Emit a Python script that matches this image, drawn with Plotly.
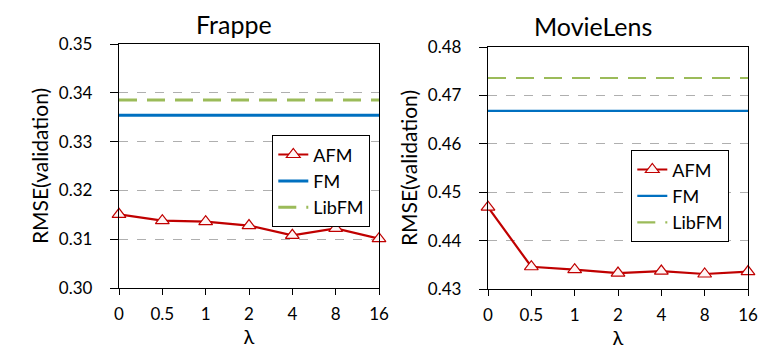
import plotly.graph_objects as go

lambdas = ["0", "0.5", "1", "2", "4", "8", "16"]

frappe_afm = [0.3151, 0.3138, 0.3136, 0.3128, 0.3108, 0.3122, 0.3101]
frappe_fm = [0.3354] * 7
frappe_libfm = [0.3385] * 7

movielens_afm = [0.4469, 0.4346, 0.4340, 0.4333, 0.4337, 0.4331, 0.4336]
movielens_fm = [0.4668] * 7
movielens_libfm = [0.4736] * 7

RED = "#C00000"
BLUE = "#0070C0"
GREEN = "#9BBB59"
FONT = "Lato"

fig = go.Figure()

def add_panel(afm, fm, libfm, xa, ya, leg, wide):
    fig.add_trace(go.Scatter(x=lambdas, y=afm, name="AFM", mode="lines+markers",
                             line=dict(color=RED, width=2.2),
                             marker=dict(symbol="triangle-up", size=12, color="#FFF5F5",
                                         line=dict(color=RED, width=1.2)),
                             cliponaxis=False, xaxis=xa, yaxis=ya, legend=leg))
    fig.add_trace(go.Scatter(x=lambdas, y=fm, name="FM", mode="lines",
                             line=dict(color=BLUE, width=3 if wide else 2.2),
                             xaxis=xa, yaxis=ya, legend=leg))
    fig.add_trace(go.Scatter(x=lambdas, y=libfm, name="LibFM", mode="lines",
                             line=dict(color=GREEN, width=3 if wide else 2.2, dash="18px,10px"),
                             xaxis=xa, yaxis=ya, legend=leg))

add_panel(frappe_afm, frappe_fm, frappe_libfm, "x", "y", "legend", True)
add_panel(movielens_afm, movielens_fm, movielens_libfm, "x2", "y2", "legend2", False)

W, H = 778, 357

def xdom(a, b):
    return [a / W, b / W]

def ydom(top, bottom):
    return [1 - bottom / H, 1 - top / H]

xcommon = dict(type="category", range=[0, 6], showline=True, linecolor="black", linewidth=1.3,
               mirror=True, ticks="outside", ticklen=6, tickcolor="black", showgrid=False,
               automargin=False, ticklabelstandoff=4,
               tickfont=dict(family=FONT, size=17, color="black"), zeroline=False,
               title=dict(text="λ", font=dict(family=FONT, size=20, color="black"), standoff=7))
ycommon = dict(showline=True, linecolor="black", linewidth=1.3, mirror=True, ticks="outside",
               ticklen=8, tickcolor="black", showgrid=True, gridcolor="#AFAFAF", griddash="dash",
               gridwidth=1, zeroline=False, automargin=False, ticklabelstandoff=14,
               tickfont=dict(family=FONT, size=17, color="black"),
               title=dict(text="RMSE(validation)", font=dict(family=FONT, size=21, color="black"),
                          standoff=4))

fig.update_layout(
    width=W, height=H, margin=dict(l=0, r=0, t=0, b=0, autoexpand=False),
    paper_bgcolor="white", plot_bgcolor="white",
    showlegend=True,
    xaxis=dict(domain=xdom(119, 379), anchor="y", **xcommon),
    yaxis=dict(domain=ydom(44, 288), anchor="x", range=[0.30, 0.35], dtick=0.01,
               tickformat=".2f", **ycommon),
    xaxis2=dict(domain=xdom(488, 748), anchor="y2", **xcommon),
    yaxis2=dict(domain=ydom(47, 289), anchor="x2", range=[0.43, 0.48], dtick=0.01,
                tickformat=".2f", **ycommon),
    legend=dict(x=272 / W, y=1 - 135 / H, xanchor="left", yanchor="top",
                bordercolor="black", borderwidth=1.3, bgcolor="white",
                font=dict(family=FONT, size=18, color="black"),
                itemwidth=30, tracegroupgap=0),
    legend2=dict(x=631 / W, y=1 - 150 / H, xanchor="left", yanchor="top",
                 bordercolor="black", borderwidth=1.3, bgcolor="white",
                 font=dict(family=FONT, size=18, color="black"),
                 itemwidth=30, tracegroupgap=0),
    annotations=[
        dict(text="Frappe", x=234 / W, y=1 - 24 / H, xref="paper", yref="paper",
             xanchor="center", yanchor="middle",
             showarrow=False, font=dict(family=FONT, size=25, color="black")),
        dict(text="MovieLens", x=593 / W, y=1 - 26 / H, xref="paper", yref="paper",
             xanchor="center", yanchor="middle",
             showarrow=False, font=dict(family=FONT, size=25, color="black")),
    ],
)

fig.write_html("out.html", config={"displayModeBar": False},
               post_script="document.body.style.margin='0';")
